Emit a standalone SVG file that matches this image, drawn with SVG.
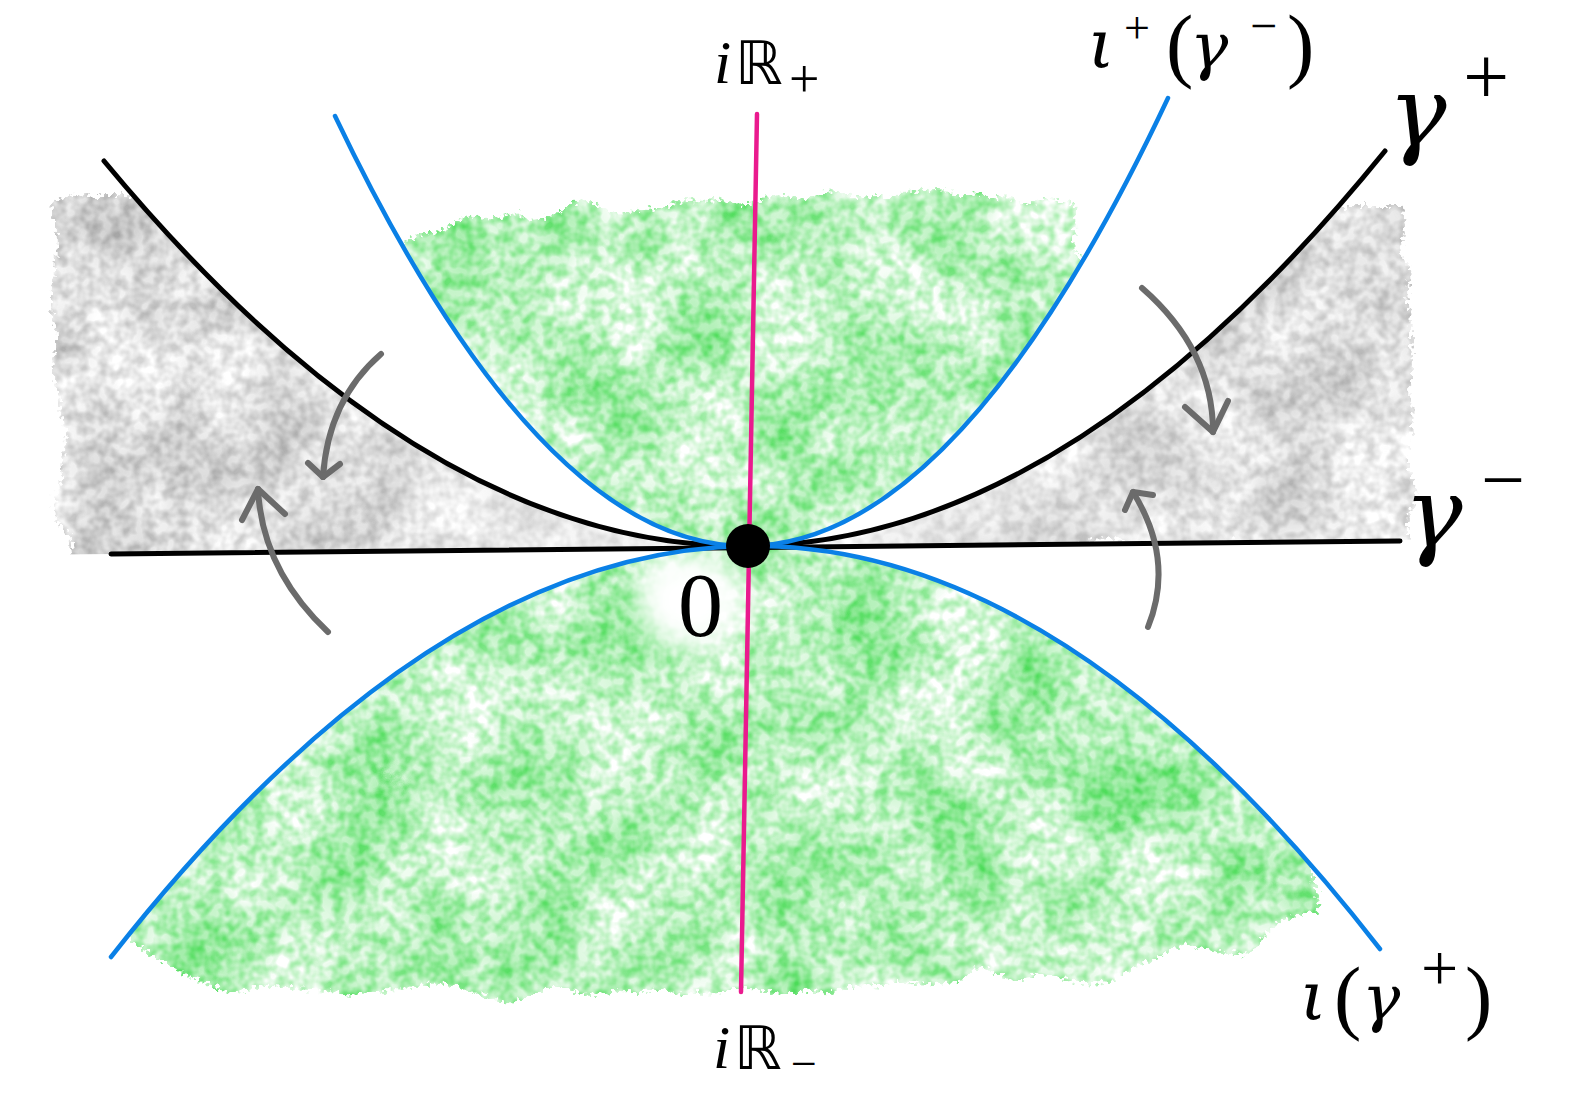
<svg xmlns="http://www.w3.org/2000/svg" width="1579" height="1099" viewBox="0 0 1579 1099">
<style>
.bk{fill:none;stroke:#000;stroke-width:5;stroke-linecap:round}
.bl{fill:none;stroke:#0a80e6;stroke-width:4.5;stroke-linecap:round}
.mg{fill:none;stroke:#ea1a8e;stroke-width:4.5;stroke-linecap:round}
.ar{fill:none;stroke:#6b6b6b;stroke-width:6;stroke-linecap:round;stroke-linejoin:round}
.t{font-family:"Liberation Serif","DejaVu Serif",serif;fill:#000}
.g{font-family:"DejaVu Serif","Liberation Serif",serif;font-style:italic;fill:#000}
.it{font-style:italic}
.bb{font-family:"DejaVu Sans","Noto Sans",sans-serif}
</style>
<defs>
<filter id="mottle" x="-10%" y="-10%" width="120%" height="120%" color-interpolation-filters="sRGB">
<feTurbulence type="fractalNoise" baseFrequency="0.015" numOctaves="2" seed="2" result="lo"/>
<feDisplacementMap in="SourceGraphic" in2="lo" scale="45" xChannelSelector="R" yChannelSelector="G" result="d1"/>
<feTurbulence type="fractalNoise" baseFrequency="0.25" numOctaves="1" seed="4" result="fine"/>
<feDisplacementMap in="d1" in2="fine" scale="16" xChannelSelector="R" yChannelSelector="G" result="d2"/>
<feTurbulence type="fractalNoise" baseFrequency="0.09" numOctaves="2" seed="5" result="hi"/>
<feColorMatrix in="hi" type="matrix" values="0 0 0 0 0  0 0 0 0 0  0 0 0 0 0  2.2 0 0 0 -0.7" result="hiA"/>
<feTurbulence type="fractalNoise" baseFrequency="0.012" numOctaves="3" seed="9" result="big"/>
<feColorMatrix in="big" type="matrix" values="0 0 0 0 0  0 0 0 0 0  0 0 0 0 0  2.0 0 0 0 -0.6" result="bigA"/>
<feComposite in="hiA" in2="bigA" operator="arithmetic" k1="0" k2="0.45" k3="0.45" k4="0" result="mask"/>
<feComposite in="d2" in2="mask" operator="in"/>
</filter>
<clipPath id="cUp"><path d="M335,116 Q541,548 748,546 Q958,544 1168,98 Z"/></clipPath>
<clipPath id="cLow"><path d="M111,957 Q430,550 748,546 Q1064,542 1380,949 L1380,1099 L111,1099 Z"/></clipPath>
<clipPath id="cGL"><path d="M0,0 L104,0 L104,161 Q426,549 748,546 L111,554 L0,555 Z"/></clipPath>
<clipPath id="cGR"><path d="M748,546 L1579,538 L1579,0 L1385,0 L1385,151 Q1067,543 748,546 Z"/></clipPath>
<linearGradient id="gL" x1="0" y1="0" x2="1" y2="0">
<stop offset="0" stop-color="#808080" stop-opacity="0.8"/>
<stop offset="0.45" stop-color="#808080" stop-opacity="0.7"/>
<stop offset="1" stop-color="#808080" stop-opacity="0.25"/>
</linearGradient>
<linearGradient id="gR" x1="1" y1="0" x2="0" y2="0">
<stop offset="0" stop-color="#808080" stop-opacity="0.75"/>
<stop offset="0.5" stop-color="#808080" stop-opacity="0.65"/>
<stop offset="1" stop-color="#808080" stop-opacity="0.25"/>
</linearGradient>
<filter id="soft" x="-50%" y="-50%" width="200%" height="200%"><feGaussianBlur stdDeviation="14"/></filter>
</defs>
<rect width="1579" height="1099" fill="#fff"/>

<g id="regions">
<g id="green-upper" clip-path="url(#cUp)">
<path d="M405,240 C470,215 560,205 650,208 C760,200 860,190 960,195 C1020,196 1060,200 1085,210 L1090,570 L400,570 Z" fill="#38d846" filter="url(#mottle)"/>
</g>
<g id="green-lower" clip-path="url(#cLow)">
<path d="M120,930 L150,970 C240,990 380,995 520,992 C620,992 700,990 760,988 C880,985 1000,978 1120,965 C1200,955 1270,935 1312,915 L1320,540 L120,540 Z" fill="#38d846" filter="url(#mottle)"/>
<ellipse cx="690" cy="600" rx="55" ry="50" fill="#fff" filter="url(#soft)"/>
</g>
<g id="gray-left" clip-path="url(#cGL)">
<path d="M55,200 C75,196 90,195 110,195 L760,195 L760,560 L70,560 C60,450 50,320 55,200 Z" fill="url(#gL)" filter="url(#mottle)"/>
</g>
<g id="gray-right" clip-path="url(#cGR)">
<path d="M740,205 L1400,205 C1412,300 1410,420 1412,545 L740,550 Z" fill="url(#gR)" filter="url(#mottle)"/>
</g>
</g>

<g id="connectors">
<path id="gamma-minus" class="bk" d="M111,554 L1400,541"/>
<path id="gamma-plus" class="bk" d="M104,161 Q426,549 748,546 Q1067,543 1385,151"/>
<path id="iota-plus-gamma-minus" class="bl" d="M335,116 Q541,548 748,546 Q958,544 1168,98"/>
<path id="iota-gamma-plus" class="bl" d="M111,957 Q430,550 748,546 Q1064,542 1380,949"/>
<path id="imag-axis" class="mg" d="M757,114 L741,992"/>
<g id="arrows">
<path class="ar" d="M381,354 Q328,400 323,477"/>
<path class="ar" d="M308,463 L323,477 L340,464"/>
<path class="ar" d="M328,632 Q262,570 258,489"/>
<path class="ar" d="M242,520 L258,489 L285,514"/>
<path class="ar" d="M1142,288 Q1213,350 1213,432"/>
<path class="ar" d="M1185,407 L1213,432 L1228,401"/>
<path class="ar" d="M1148,627 Q1175,560 1133,492"/>
<path class="ar" d="M1125,510 L1133,492 L1153,495"/>
</g>
</g>

<g id="origin">
<circle cx="748" cy="546" r="22" fill="#000"/>
<text class="t" x="678" y="636" font-size="90">0</text>
</g>

<g id="label-iR-plus">
<text class="t it" x="714" y="83" font-size="62">i</text>
<text class="t bb" x="735" y="84" font-size="60">ℝ</text>
<text class="t" x="789" y="97" font-size="54">+</text>
</g>
<g id="label-iR-minus">
<text class="t it" x="713" y="1068" font-size="62">i</text>
<text class="t bb" x="734" y="1069" font-size="60">ℝ</text>
<text class="t" x="791" y="1079" font-size="46">−</text>
</g>
<g id="label-iota-plus-gamma-minus">
<text class="g" x="1088" y="68" font-size="68">ι</text>
<text class="t" x="1124" y="43" font-size="46">+</text>
<text class="t" x="1166" y="72" font-size="82">(</text>
<text class="g" x="1190" y="68" font-size="64">γ</text>
<text class="t" x="1250" y="42" font-size="48">−</text>
<text class="t" x="1287" y="72" font-size="82">)</text>
</g>
<g id="label-gamma-plus">
<text class="g" x="1388" y="146" font-size="98">γ</text>
<text class="t" x="1463" y="104" font-size="82">+</text>
</g>
<g id="label-gamma-minus">
<text class="g" x="1404" y="547" font-size="98">γ</text>
<text class="t" x="1481" y="506" font-size="78">−</text>
</g>
<g id="label-iota-gamma-plus">
<text class="g" x="1300" y="1020" font-size="68">ι</text>
<text class="t" x="1334" y="1024" font-size="82">(</text>
<text class="g" x="1362" y="1020" font-size="64">γ</text>
<text class="t" x="1421" y="990" font-size="66">+</text>
<text class="t" x="1465" y="1024" font-size="82">)</text>
</g>
</svg>
